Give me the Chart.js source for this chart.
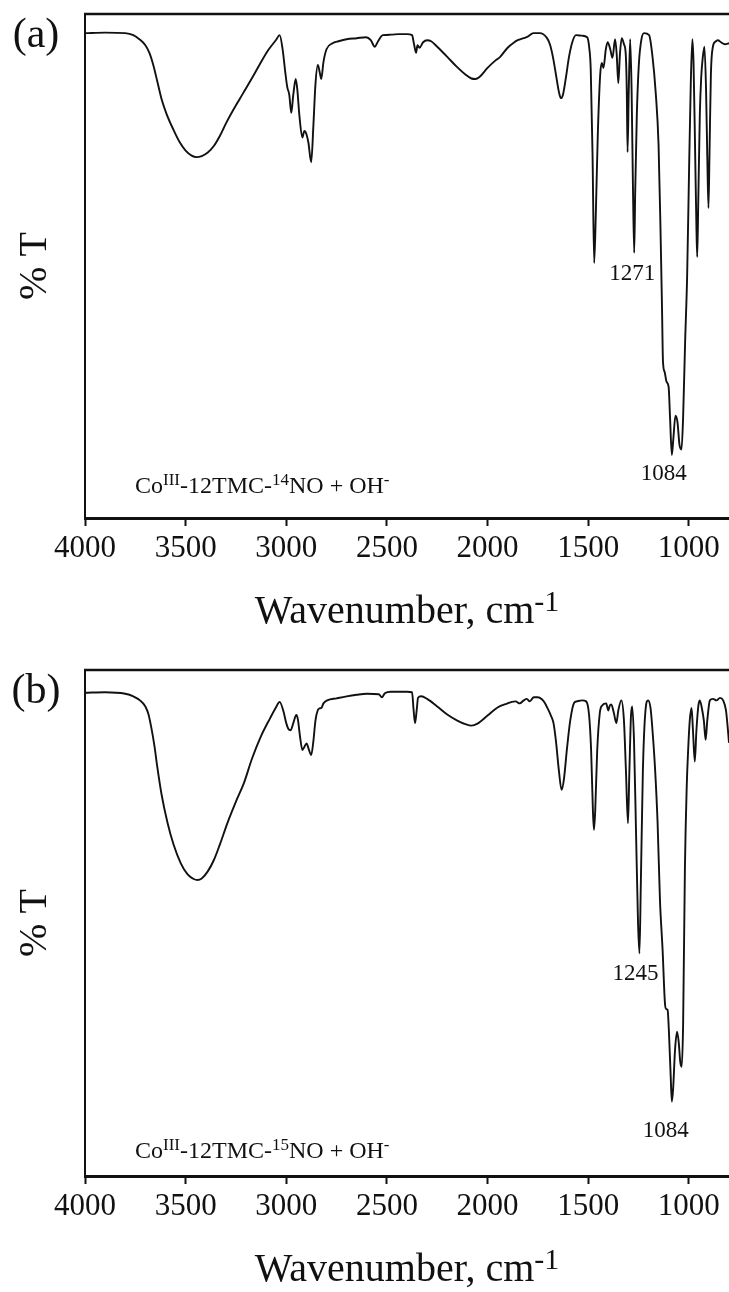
<!DOCTYPE html>
<html>
<head>
<meta charset="utf-8">
<title>IR spectra of Co-12TMC-NO + OH</title>
<script src="https://cdn.jsdelivr.net/npm/chart.js@4.4.0/dist/chart.umd.min.js"></script>
<style>
  body { margin: 0; background: #fff; }
  canvas { display: block; }
</style>
</head>
<body>
<canvas id="specA" width="729" height="656"></canvas>
<canvas id="specB" width="729" height="636"></canvas>
<script>
// x axis ticks (cm-1)
const tickValues = [4000, 3500, 3000, 2500, 2000, 1500, 1000];

// spectrum (a): 14NO sample
const waveA = [
  4000, 3900, 3800, 3760, 3730, 3700, 3680, 3660, 3640, 3620,
  3595, 3560, 3530, 3500, 3470, 3446, 3420, 3390, 3360, 3330,
  3297, 3260, 3214, 3170, 3132, 3090, 3050, 3033, 3018, 3005,
  2995, 2985, 2975, 2965, 2953, 2945, 2935, 2920, 2910, 2900,
  2890, 2876, 2865, 2855, 2843, 2834, 2826, 2815, 2800, 2770,
  2740, 2700, 2650, 2603, 2580, 2560, 2545, 2520, 2480, 2440,
  2400, 2375, 2365, 2355, 2348, 2338, 2320, 2300, 2280, 2250,
  2200, 2152, 2110, 2080, 2060, 2040, 2000, 1960, 1937, 1900,
  1870, 1850, 1820, 1800, 1772, 1740, 1706, 1690, 1675, 1660,
  1645, 1635, 1625, 1610, 1595, 1578, 1560, 1530, 1505, 1495,
  1487, 1478, 1470, 1462, 1452, 1440, 1432, 1424, 1412, 1403,
  1390, 1379, 1366, 1358, 1350, 1342, 1333, 1322, 1313, 1308,
  1304, 1298, 1291, 1284, 1277, 1271, 1266, 1258, 1248, 1235,
  1222, 1197, 1180, 1164, 1150, 1140, 1133, 1128, 1120, 1110,
  1100, 1093, 1084, 1077, 1066, 1056, 1046, 1036, 1028, 1018,
  1008, 998, 990, 982, 976, 968, 962, 958, 953, 945,
  938, 930, 922, 914, 908, 902, 897, 890, 880, 868,
  855, 840, 820, 800
];
const transA = [
  96.2, 96.3, 96.2, 95.8, 95.0, 93.8, 92.3, 89.8, 86.5, 83.2,
  80.2, 77.0, 74.6, 72.9, 71.9, 71.6, 71.8, 72.5, 73.8, 75.8,
  78.5, 81.2, 84.3, 87.3, 90.0, 92.8, 94.9, 95.8, 93.0, 88.5,
  85.5, 84.0, 80.4, 84.0, 87.1, 85.0, 80.0, 75.5, 76.8, 76.2,
  74.5, 70.6, 78.0, 86.0, 89.9, 88.5, 87.1, 90.5, 93.0, 94.2,
  94.6, 95.0, 95.2, 95.4, 94.8, 93.5, 94.5, 95.8, 95.9, 96.0,
  96.0, 95.8, 94.0, 92.3, 93.8, 93.3, 94.4, 94.8, 94.6, 93.5,
  91.5, 89.5, 88.0, 87.2, 87.1, 87.5, 89.3, 90.8, 91.5, 93.3,
  94.3, 94.8, 95.2, 95.5, 96.2, 96.2, 95.3, 94.0, 91.5, 88.0,
  84.5, 83.3, 84.0, 87.5, 91.5, 94.5, 95.8, 95.7, 95.4, 93.5,
  89.0, 72.0, 50.6, 60.0, 76.0, 88.0, 90.3, 89.3, 93.0, 94.4,
  93.0, 91.3, 95.0, 92.0, 86.3, 92.0, 95.2, 94.0, 92.0, 85.0,
  72.6, 85.0, 95.0, 85.0, 65.0, 52.6, 65.0, 80.0, 90.0, 95.0,
  96.2, 95.8, 91.5, 84.3, 74.0, 56.5, 42.0, 31.0, 29.0, 27.0,
  26.0, 20.0, 12.5, 15.5, 20.3, 19.0, 14.5, 13.6, 20.0, 35.0,
  48.0, 70.0, 86.0, 95.0, 90.0, 72.0, 58.0, 51.8, 62.0, 80.0,
  87.5, 91.5, 93.5, 85.0, 72.0, 61.5, 72.0, 88.0, 93.5, 94.5,
  94.8, 94.4, 94.0, 94.2
];

// spectrum (b): 15NO sample
const waveB = [
  4000, 3900, 3800, 3760, 3727, 3700, 3685, 3670, 3655, 3641,
  3620, 3590, 3560, 3524, 3490, 3460, 3441, 3420, 3390, 3359,
  3330, 3292, 3250, 3210, 3170, 3127, 3080, 3050, 3033, 3015,
  3000, 2990, 2978, 2965, 2950, 2942, 2932, 2920, 2910, 2899,
  2888, 2876, 2865, 2855, 2843, 2835, 2826, 2815, 2796, 2750,
  2700, 2650, 2600, 2540, 2525, 2510, 2480, 2400, 2375, 2367,
  2360, 2352, 2345, 2330, 2300, 2250, 2200, 2150, 2110, 2080,
  2050, 2000, 1950, 1900, 1879, 1860, 1840, 1820, 1805, 1790,
  1770, 1750, 1730, 1715, 1700, 1685, 1672, 1660, 1645, 1632,
  1620, 1605, 1589, 1570, 1556, 1530, 1510, 1495, 1485, 1476,
  1471, 1465, 1455, 1442, 1430, 1410, 1400, 1392, 1385, 1372,
  1360, 1350, 1335, 1322, 1312, 1302, 1295, 1287, 1281, 1272,
  1262, 1252, 1245, 1238, 1228, 1215, 1202, 1190, 1180, 1168,
  1155, 1143, 1130, 1118, 1112, 1105, 1098, 1090, 1084, 1078,
  1068, 1058, 1050, 1042, 1035, 1028, 1019, 1010, 1003, 995,
  986, 979, 970, 962, 952, 945, 935, 925, 916, 908,
  895, 880, 862, 845, 829, 815, 805, 800
];
const transB = [
  95.5, 95.6, 95.3, 94.8, 94.0, 92.8, 91.3, 88.5, 85.0, 80.9,
  75.5, 69.8, 65.5, 61.8, 59.6, 58.7, 58.5, 58.8, 60.2, 62.5,
  65.5, 69.8, 74.0, 77.7, 82.5, 86.8, 90.5, 92.7, 93.7, 92.0,
  89.5, 88.4, 88.1, 89.5, 91.1, 90.2, 87.0, 84.2, 84.8, 85.5,
  84.3, 83.2, 86.0, 90.0, 92.1, 92.4, 92.5, 93.4, 94.0, 94.4,
  94.8, 95.1, 95.3, 95.2, 94.6, 95.4, 95.7, 95.7, 95.6, 92.0,
  89.5, 92.0, 94.5, 94.8, 94.3, 92.8, 91.2, 90.0, 89.3, 89.0,
  89.4, 91.0, 92.6, 93.4, 93.7, 93.8, 93.4, 94.0, 94.3, 93.8,
  94.6, 94.6, 94.2, 93.5, 92.3, 91.0, 89.5, 86.0, 80.0, 76.3,
  78.5, 84.5, 90.0, 93.5, 93.8, 94.0, 93.8, 91.0, 84.0, 72.0,
  68.4, 72.0, 84.0, 91.5, 93.0, 93.4, 92.0, 93.0, 93.2, 91.5,
  89.5, 92.0, 94.0, 90.0, 80.0, 69.7, 80.0, 91.0, 92.8, 86.0,
  68.0, 50.0, 44.0, 58.0, 80.0, 92.0, 94.0, 92.5, 88.0, 80.9,
  70.0, 54.5, 44.7, 34.0, 33.0, 32.8, 28.0, 20.0, 14.7, 17.0,
  25.0, 28.5, 26.5, 22.5, 21.6, 30.0, 61.0, 77.0, 84.2, 90.0,
  92.5, 88.0, 81.9, 88.0, 93.0, 94.0, 92.5, 90.0, 86.2, 90.0,
  94.0, 94.3, 94.0, 94.5, 94.0, 92.0, 88.0, 85.6
];

// labelled band positions
const peaksA = [1271, 1084];
const peaksB = [1245, 1084];

const serif = '"Liberation Serif", "Times New Roman", serif';
const ink = '#111';

// draw a row of text pieces, some raised as superscripts
function drawRuns(ctx, x, y, runs, size, supSize, rise) {
  runs.forEach(r => {
    ctx.font = (r.sup ? supSize : size) + 'px ' + serif;
    ctx.fillText(r.t, x, r.sup ? y - rise : y);
    x += ctx.measureText(r.t).width;
  });
}

const figureText = {
  id: 'figureText',
  afterDraw(chart, args, opts) {
    const { ctx, chartArea: area, scales } = chart;
    ctx.save();

    // top edge of the frame
    ctx.strokeStyle = ink;
    ctx.lineWidth = 2.5;
    ctx.beginPath();
    ctx.moveTo(area.left - 1, area.top);
    ctx.lineTo(area.right, area.top);
    ctx.stroke();

    ctx.fillStyle = ink;

    // panel letter
    ctx.font = '42px ' + serif;
    ctx.textAlign = 'center';
    ctx.textBaseline = 'middle';
    ctx.fillText(opts.panel, 36, 36);

    // y axis title
    ctx.save();
    ctx.translate(35, (area.top + area.bottom) / 2);
    ctx.rotate(-Math.PI / 2);
    ctx.font = '40px ' + serif;
    ctx.fillText('% T', 0, 0);
    ctx.restore();

    // x axis title with cm-1 superscript
    ctx.textAlign = 'left';
    ctx.textBaseline = 'alphabetic';
    ctx.font = '40px ' + serif;
    const wMain = ctx.measureText('Wavenumber, cm').width;
    ctx.font = '30px ' + serif;
    const wSup = ctx.measureText('-1').width;
    const tx = (area.left + area.right) / 2 - (wMain + wSup) / 2;
    drawRuns(ctx, tx, area.bottom + 105, [
      { t: 'Wavenumber, cm' }, { t: '-1', sup: true }
    ], 40, 30, 12);

    // sample note
    drawRuns(ctx, 135, area.bottom - opts.noteLift, [
      { t: 'Co' }, { t: 'III', sup: true }, { t: '-12TMC-' },
      { t: opts.isotope, sup: true }, { t: 'NO + OH' }, { t: '-', sup: true }
    ], 24, 17, 8);

    // band labels under their minima
    const ds = chart.data.datasets[0].data;
    ctx.font = '23px ' + serif;
    ctx.textAlign = 'center';
    ctx.textBaseline = 'middle';
    opts.peaks.forEach((p, i) => {
      const pt = ds.find(d => d.x === p);
      const px = scales.x.getPixelForValue(p) + opts.peakShift[i][0];
      const py = scales.y.getPixelForValue(pt.y) + opts.peakShift[i][1];
      ctx.fillText(String(p), px, py);
    });

    ctx.restore();
  }
};

function buildSpectrum(canvasId, waves, trans, xAxisHeight, textOpts) {
  return new Chart(document.getElementById(canvasId), {
    type: 'line',
    data: {
      datasets: [{
        data: waves.map((w, i) => ({ x: w, y: trans[i] })),
        borderColor: ink,
        borderWidth: 1.9,
        pointRadius: 0,
        cubicInterpolationMode: 'monotone',
        fill: false
      }]
    },
    options: {
      responsive: false,
      animation: false,
      layout: { padding: { left: 0, right: 0, top: 14, bottom: 0 }, autoPadding: false },
      plugins: {
        legend: { display: false },
        tooltip: { enabled: false },
        figureText: textOpts
      },
      scales: {
        x: {
          type: 'linear',
          reverse: true,
          min: 800,
          max: 4000,
          afterBuildTicks: axis => { axis.ticks = tickValues.map(v => ({ value: v })); },
          afterFit: scale => { scale.height = xAxisHeight; },
          ticks: {
            font: { family: serif, size: 31 },
            color: ink,
            padding: 4,
            maxRotation: 0,
            autoSkip: false,
            callback: value => String(value)
          },
          grid: { display: true, drawOnChartArea: false, drawTicks: true, tickLength: 8, tickWidth: 2, tickColor: ink },
          border: { display: true, color: ink, width: 3 }
        },
        y: {
          min: 0,
          max: 100,
          afterFit: scale => { scale.width = 85; },
          ticks: { display: false },
          grid: { display: false },
          border: { display: true, color: ink, width: 2 }
        }
      }
    },
    plugins: [figureText]
  });
}

buildSpectrum('specA', waveA, transA, 138, {
  panel: '(a)', isotope: '14', noteLift: 25,
  peaks: peaksA, peakShift: [[-2, 21], [-8, 19]]
});
buildSpectrum('specB', waveB, transB, 116, {
  panel: '(b)', isotope: '15', noteLift: 18,
  peaks: peaksB, peakShift: [[-4, 21], [-6, 29]]
});
</script>
</body>
</html>
